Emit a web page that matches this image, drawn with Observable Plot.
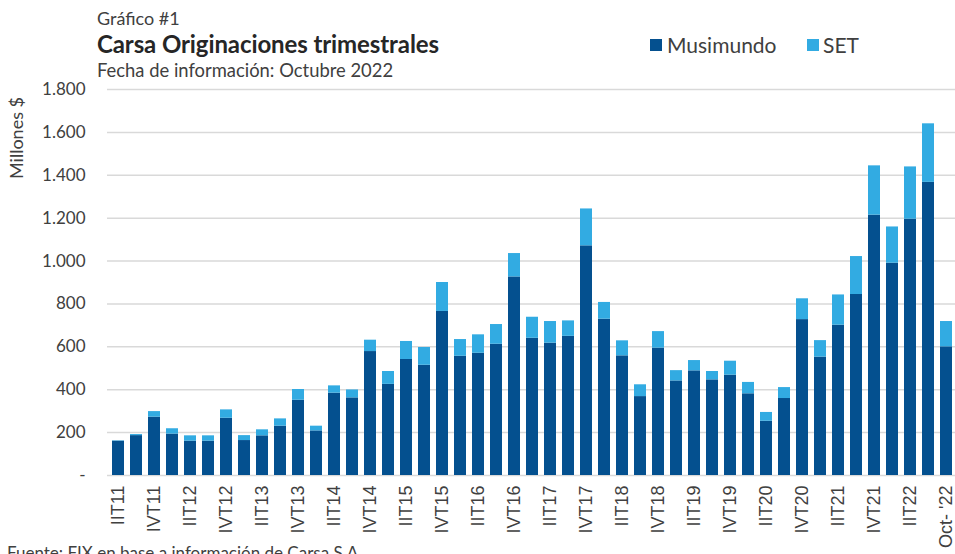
<!DOCTYPE html>
<html>
<head>
<meta charset="utf-8">
<script src="https://cdn.jsdelivr.net/npm/d3@7"></script>
<script src="https://cdn.jsdelivr.net/npm/@observablehq/plot@0.6"></script>
<style>
  html, body { margin: 0; padding: 0; background: #fff; }
  #wrap { position: relative; width: 955px; height: 554px; overflow: hidden; font-family: Lato, sans-serif; color: #404040; }
  .t { position: absolute; white-space: nowrap; line-height: 1; }
  .sw { position: absolute; width: 12px; height: 12px; }
  #chart svg { overflow: visible; }
</style>
</head>
<body>
<div id="wrap">
  <div class="t" style="left:97px;top:9px;font-size:18px;">Gráfico #1</div>
  <div class="t" style="left:97px;top:32px;font-size:24px;font-weight:bold;color:#262626;letter-spacing:-0.1px;">Carsa Originaciones trimestrales</div>
  <div class="t" style="left:97px;top:61px;font-size:18.4px;">Fecha de información: Octubre 2022</div>
  <div class="sw" style="left:650px;top:39px;background:#04508F;"></div>
  <div class="t" style="left:667px;top:34px;font-size:21px;">Musimundo</div>
  <div class="sw" style="left:807px;top:39px;background:#32ABE2;"></div>
  <div class="t" style="left:823px;top:34px;font-size:21px;">SET</div>
  <div class="t" style="left:16px;top:138px;font-size:18px;transform:translate(-50%,-50%) rotate(-90deg);">Millones $</div>
  <div id="chart" style="position:absolute;left:0;top:80px;"></div>
  <div class="t" style="left:7px;top:544px;font-size:17px;">Fuente: FIX en base a información de Carsa S.A.</div>
</div>
<script>
const categories = [
  "IIT11","IIIT11","IVT11",
  "IT12","IIT12","IIIT12","IVT12",
  "IT13","IIT13","IIIT13","IVT13",
  "IT14","IIT14","IIIT14","IVT14",
  "IT15","IIT15","IIIT15","IVT15",
  "IT16","IIT16","IIIT16","IVT16",
  "IT17","IIT17","IIIT17","IVT17",
  "IT18","IIT18","IIIT18","IVT18",
  "IT19","IIT19","IIIT19","IVT19",
  "IT20","IIT20","IIIT20","IVT20",
  "IT21","IIT21","IIIT21","IVT21",
  "IT22","IIT22","IIIT22","Oct- '22"
];
const musimundo = [
  160, 186, 272,
  193, 160, 160, 267,
  163, 185, 230, 351,
  208, 384, 362, 578,
  425, 541, 514, 765,
  556, 570, 612, 926,
  640, 617, 649, 1071,
  729, 558, 368, 594,
  441, 488, 446, 468,
  381, 253, 359, 727,
  552, 701, 844, 1214,
  990, 1195, 1367, 600
];
const set = [
  2, 5, 26,
  25, 25, 25, 39,
  23, 28, 34, 50,
  22, 34, 37, 53,
  60, 84, 83, 135,
  78, 86, 92, 109,
  98, 101, 72, 172,
  78, 70, 55, 77,
  48, 48, 39, 65,
  53, 41, 51, 97,
  77, 141, 177, 230,
  169, 244, 273, 118
];
const seriesNames = ["Musimundo", "SET"];
const seriesColors = ["#04508F", "#32ABE2"];
const yTicks = [0, 200, 400, 600, 800, 1000, 1200, 1400, 1600, 1800];
const xTicks = categories.filter((d, i) => i % 2 === 0);

const data = [];
categories.forEach((c, i) => {
  data.push({cat: c, series: "Musimundo", value: musimundo[i]});
  data.push({cat: c, series: "SET", value: set[i]});
});

const fmt = d => d === 0 ? "-" : d3.format(",")(d).replace(/,/g, ".");

const chart = Plot.plot({
  width: 955,
  height: 474,
  marginTop: 9,
  marginBottom: 79,
  marginLeft: 107,
  marginRight: 0,
  style: {fontFamily: "Lato, sans-serif", color: "#404040", background: "transparent", overflow: "visible"},
  x: {domain: categories, range: [107, 957], paddingInner: 0.335, paddingOuter: 0.17, axis: null},
  y: {domain: [0, 1800], axis: null},
  color: {domain: seriesNames, range: seriesColors},
  marks: [
    Plot.gridY(yTicks, {stroke: "#d9d9d9", strokeOpacity: 1, strokeWidth: 1.5}),
    Plot.barY(data, {x: "cat", y: "value", fill: "series", order: seriesNames}),
    Plot.axisY({ticks: yTicks, tickSize: 0, tickPadding: 22, tickFormat: fmt, label: null, fontSize: 17, fill: "#404040"}),
    Plot.axisX({ticks: xTicks, tickSize: 0, tickPadding: 10, tickRotate: -90, label: null, fontSize: 18, fontFamily: "Liberation Sans, Arial, sans-serif", fill: "#404040"})
  ]
});
document.getElementById("chart").appendChild(chart);
</script>
</body>
</html>
